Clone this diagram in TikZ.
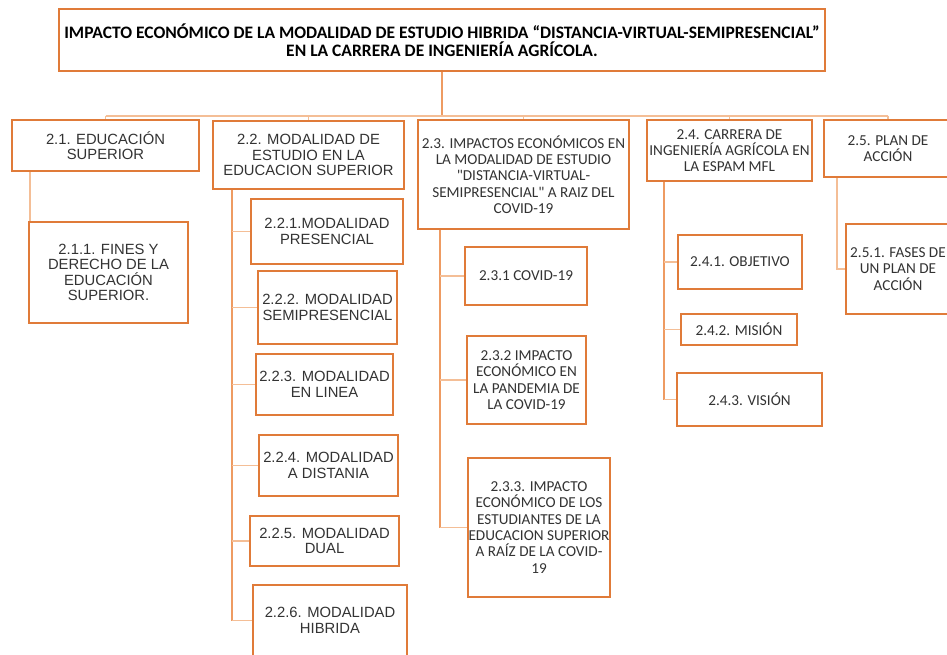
\documentclass[tikz,border=0pt]{standalone}
\usepackage{fontspec}
\setmainfont{Liberation Sans}
\newfontfamily\calfont{Carlito}
\definecolor{boxorange}{HTML}{E07B39}
\definecolor{lineorange}{HTML}{EE9B62}
\definecolor{lightorange}{HTML}{F4BE96}
\definecolor{txt}{HTML}{333333}
\begin{document}
\begin{tikzpicture}[x=1pt,y=-1pt,
  box/.style={draw=boxorange,line width=2.2pt,fill=white,inner sep=0pt,align=center,text=txt},
  ar/.style={font=\fontsize{14.8}{15.6}\selectfont},
  ca/.style={font=\calfont\fontsize{15.2}{16.3}\selectfont},
  conn/.style={draw=lineorange,line width=1.2pt},
  lconn/.style={draw=lightorange,line width=1.2pt}]
\useasboundingbox (0,0) rectangle (947,655);
\clip (0,0) rectangle (947,655);
\fill[white] (0,0) rectangle (947,655);
% coordinates for bus and spines
\coordinate (busy) at (0,116);
\coordinate (s21) at (30,0);
\coordinate (s22) at (232,0);
\coordinate (s23) at (440,0);
\coordinate (s24) at (664,0);
\coordinate (s25) at (837,0);
% nodes
\node[box,minimum width=766pt,minimum height=62pt,text=black,font=\calfont\bfseries\fontsize{17.5}{18.5}\selectfont] (title) at (442,40)
  {IMPACTO ECONÓMICO DE LA MODALIDAD DE ESTUDIO HIBRIDA “DISTANCIA-VIRTUAL-SEMIPRESENCIAL”\\EN LA CARRERA DE INGENIERÍA AGRÍCOLA.};
\node[box,ar,minimum width=187pt,minimum height=51pt] (b21) at (105.5,145.5) {2.1. EDUCACIÓN\\SUPERIOR};
\node[box,ar,minimum width=159pt,minimum height=101pt] (b211) at (108.5,272.5) {2.1.1. FINES Y\\DERECHO DE LA\\EDUCACIÓN\\SUPERIOR.};
\node[box,ar,minimum width=191pt,minimum height=68pt] (b22) at (308.5,155) {2.2. MODALIDAD DE\\ESTUDIO EN LA\\EDUCACION SUPERIOR};
\node[box,ar,minimum width=152pt,minimum height=65pt] (b221) at (327,231.5) {2.2.1.MODALIDAD\\PRESENCIAL};
\node[box,ar,minimum width=139pt,minimum height=73pt] (b222) at (327.5,307.5) {2.2.2. MODALIDAD\\SEMIPRESENCIAL};
\node[box,ar,minimum width=137pt,minimum height=61pt] (b223) at (324.5,384.5) {2.2.3. MODALIDAD\\EN LINEA};
\node[box,ar,minimum width=139pt,minimum height=61pt] (b224) at (328.5,465.5) {2.2.4. MODALIDAD\\A DISTANIA};
\node[box,ar,minimum width=149pt,minimum height=50pt] (b225) at (324.5,541) {2.2.5. MODALIDAD\\DUAL};
\node[box,ar,minimum width=154pt,minimum height=71pt] (b226) at (330,620.5) {2.2.6. MODALIDAD\\HIBRIDA};
\node[box,ca,minimum width=211pt,minimum height=109pt] (b23) at (523.5,174.5) {2.3. IMPACTOS ECONÓMICOS EN\\LA MODALIDAD DE ESTUDIO\\"DISTANCIA-VIRTUAL-\\SEMIPRESENCIAL" A RAIZ DEL\\COVID-19};
\node[box,ca,minimum width=122pt,minimum height=58pt] (b231) at (526,276) {2.3.1 COVID-19};
\node[box,ca,minimum width=119pt,minimum height=88pt] (b232) at (526.5,380) {2.3.2 IMPACTO\\ECONÓMICO EN\\LA PANDEMIA DE\\LA COVID-19};
\node[box,ca,minimum width=142pt,minimum height=139pt] (b233) at (539,527.5) {2.3.3. IMPACTO\\ECONÓMICO DE LOS\\ESTUDIANTES DE LA\\EDUCACION SUPERIOR\\A RAÍZ DE LA COVID-\\19};
\node[box,ca,minimum width=165pt,minimum height=61pt] (b24) at (729.5,150.5) {2.4. CARRERA DE\\INGENIERÍA AGRÍCOLA EN\\LA ESPAM MFL};
\node[box,ca,minimum width=124pt,minimum height=54pt] (b241) at (740,262) {2.4.1. OBJETIVO};
\node[box,ca,minimum width=116pt,minimum height=31pt] (b242) at (739,329.5) {2.4.2. MISIÓN};
\node[box,ca,minimum width=145pt,minimum height=53pt] (b243) at (749.5,399.5) {2.4.3. VISIÓN};
\node[box,ca,minimum width=128pt,minimum height=57pt] (b25) at (888,148.5) {2.5. PLAN DE\\ACCIÓN};
\node[box,ca,minimum width=114pt,minimum height=90pt] (b251) at (903,269) {};
\node[ca,text=txt,align=center,inner sep=0pt] (t251) at (898,269) {2.5.1. FASES DE\\UN PLAN DE\\ACCIÓN};
% connectors: title to bus
\draw[conn,line width=1.6pt] (title.south) -- (title.south |- busy);
\draw[lconn] (b21.north |- busy) -- (b25.north |- busy);
\foreach \n in {b21,b22,b23,b24,b25}{\draw[lconn] (\n.north |- busy) -- (\n.north);}
% 2.1
\draw[lconn] (b21.south -| s21) -- (b211.north -| s21);
% 2.2
\draw[conn] (b22.south -| s22) -- (s22 |- b226.west);
\foreach \n in {b221,b222,b223,b224,b225,b226}{\draw[lconn] (s22 |- \n.west) -- (\n.west);}
% 2.3
\draw[conn] (b23.south -| s23) -- (s23 |- b233.west);
\foreach \n in {b231,b232,b233}{\draw[lconn] (s23 |- \n.west) -- (\n.west);}
% 2.4
\draw[conn] (b24.south -| s24) -- (s24 |- b243.west);
\foreach \n in {b241,b242,b243}{\draw[lconn] (s24 |- \n.west) -- (\n.west);}
% 2.5
\draw[lconn] (b25.south -| s25) |- (b251.west);
\end{tikzpicture}
\end{document}
